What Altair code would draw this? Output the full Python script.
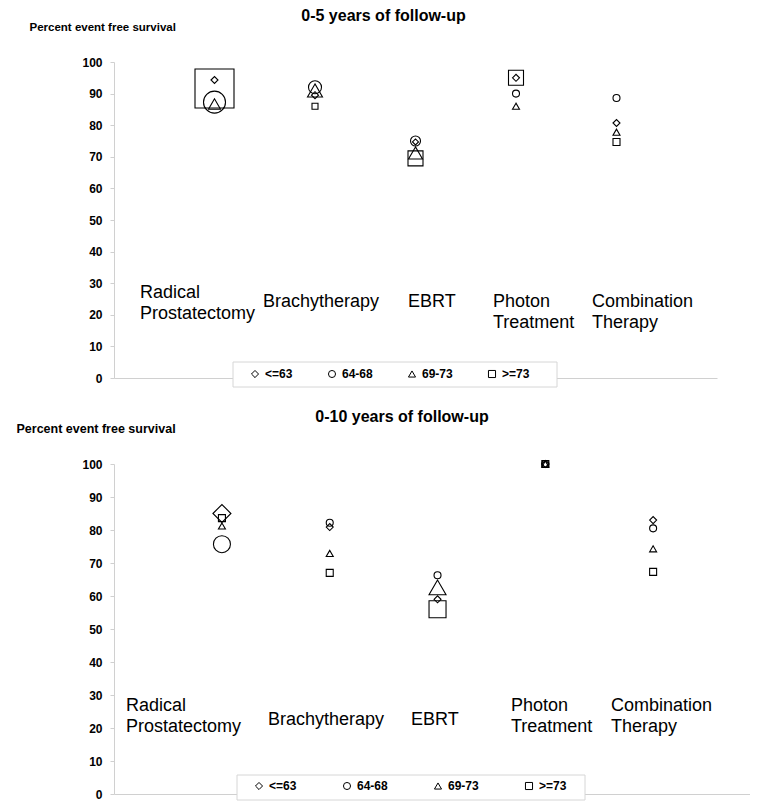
import altair as alt
import pandas as pd

FONT = "Liberation Sans"

categories = ["Radical Prostatectomy", "Brachytherapy", "EBRT",
              "Photon Treatment", "Combination Therapy"]
age_groups = ["<=63", "64-68", "69-73", ">=73"]
group_shapes = ["diamond", "circle", "triangle-up", "square"]

# 0-5 years of follow-up: percent event free survival per age group
five_le63 = [94.3, 89.5, 74.7, 95.0, 80.7]
five_64_68 = [87.3, 92.0, 75.0, 90.0, 88.6]
five_69_73 = [86.7, 91.0, 71.2, 86.0, 77.8]
five_ge73 = [91.6, 86.0, 69.5, 95.0, 74.7]

# 0-10 years of follow-up
ten_le63 = [85.0, 80.9, 59.0, 100.0, 83.0]
ten_64_68 = [75.7, 82.2, 66.3, 100.0, 80.5]
ten_69_73 = [81.2, 72.9, 62.6, 100.0, 74.3]
ten_ge73 = [83.6, 67.0, 56.0, 100.0, 67.3]

# marker diameters (px) as drawn in the reference
five_d = [[7, 7, 6, 7, 7], [22, 13, 10, 7, 7], [12, 15, 14, 7, 7], [39, 6, 15, 15, 7]]
ten_d = [[18, 7, 7, 7, 7], [17, 7, 7, 7, 7], [7, 7, 17, 7, 7], [7, 7, 17, 7, 7]]


def make_df(series, diams):
    rows = []
    for g, vals, ds in zip(age_groups, series, diams):
        for c, v, d in zip(categories, vals, ds):
            rows.append({"category": c, "group": g, "value": v, "size": d * d})
    return pd.DataFrame(rows)


df5 = make_df([five_le63, five_64_68, five_69_73, five_ge73], five_d)
df10 = make_df([ten_le63, ten_64_68, ten_69_73, ten_ge73], ten_d)

one = pd.DataFrame({"k": [0]})


def panel(df, title, title_dx, width, height, x_pad, x_align, ylab_x, ylab_y,
          ylab_size, labels, legend_xy, legend_gap, box):
    base = alt.Chart(df)
    points = base.mark_point(filled=False, stroke="black", strokeWidth=1.1, opacity=1).encode(
        x=alt.X("category:N", sort=categories,
                scale=alt.Scale(type="point", domain=categories, padding=x_pad, align=x_align),
                axis=alt.Axis(labels=False, ticks=False, title=None, domainColor="#d0d0d0",
                              domainWidth=1)),
        y=alt.Y("value:Q", scale=alt.Scale(domain=[0, 100], nice=False, zero=True),
                axis=alt.Axis(values=list(range(0, 101, 10)), grid=False, domainColor="#d0d0d0",
                              tickColor="#d0d0d0", tickSize=4, labelPadding=8,
                              labelFont=FONT, labelFontSize=12, labelFontWeight="bold",
                              labelColor="black",
                              title="Percent event free survival", titleAngle=0,
                              titleX=ylab_x, titleY=ylab_y, titleAlign="left",
                              titleBaseline="middle", titleFont=FONT,
                              titleFontSize=ylab_size, titleFontWeight="bold",
                              titleColor="black")),
        shape=alt.Shape("group:N", scale=alt.Scale(domain=age_groups, range=group_shapes),
                        legend=alt.Legend(orient="none", legendX=legend_xy[0],
                                          legendY=legend_xy[1], direction="horizontal",
                                          title=None, columns=4, symbolSize=50,
                                          symbolStrokeColor="black", symbolStrokeWidth=1,
                                          symbolFillColor="transparent",
                                          labelFont=FONT, labelFontSize=12,
                                          labelFontWeight="bold", labelColor="black",
                                          labelOffset=4, columnPadding=legend_gap)),
        size=alt.Size("size:Q", scale=None, legend=None),
    )
    frame = alt.Chart(one).mark_rect(fill="white", stroke="#d6d6d6", strokeWidth=1).encode(
        x=alt.value(box[0]), x2=alt.value(box[1]), y=alt.value(box[2]), y2=alt.value(box[3]))
    layers = [frame, points]
    for lines, lx, ly in labels:
        for i, ln in enumerate(lines):
            layers.append(
                alt.Chart(one).mark_text(align="left", baseline="middle", font=FONT,
                                         fontSize=18, color="black").encode(
                    x=alt.value(lx), y=alt.value(ly + 21 * i), text=alt.value(ln)))
    return alt.layer(*layers).properties(
        width=width, height=height,
        title=alt.TitleParams(title, font=FONT, fontSize=16, fontWeight="bold",
                              color="black", anchor="middle", frame="group",
                              dx=title_dx, offset=-3))


top = panel(df5, "0-5 years of follow-up", -32, 603, 316, 1, 0.5, -85, -35, 11.5,
            [(["Radical", "Prostatectomy"], 26, 231), (["Brachytherapy"], 149, 240),
             (["EBRT"], 294, 240), (["Photon", "Treatment"], 379, 240),
             (["Combination", "Therapy"], 478, 240)],
            (135, 306), 33, (119, 443, 300, 325))

bottom = panel(df10, "0-10 years of follow-up", -30, 636, 330, 0.95, 0.527, -98, -36, 12.5,
               [(["Radical", "Prostatectomy"], 12, 242), (["Brachytherapy"], 154, 256),
                (["EBRT"], 297, 256), (["Photon", "Treatment"], 397, 242),
                (["Combination", "Therapy"], 497, 242)],
               (139, 316), 44, (123, 471, 311, 336))

chart = alt.vconcat(top, bottom, spacing=86, bounds="flush").resolve_scale(
    x="independent", y="independent", shape="independent", size="independent"
).resolve_legend(shape="independent").properties(
    padding={"left": 8, "top": 0, "right": 0, "bottom": 0}
).configure_view(stroke=None)

chart.save("out.html", embed_options={"renderer": "svg", "actions": False})
